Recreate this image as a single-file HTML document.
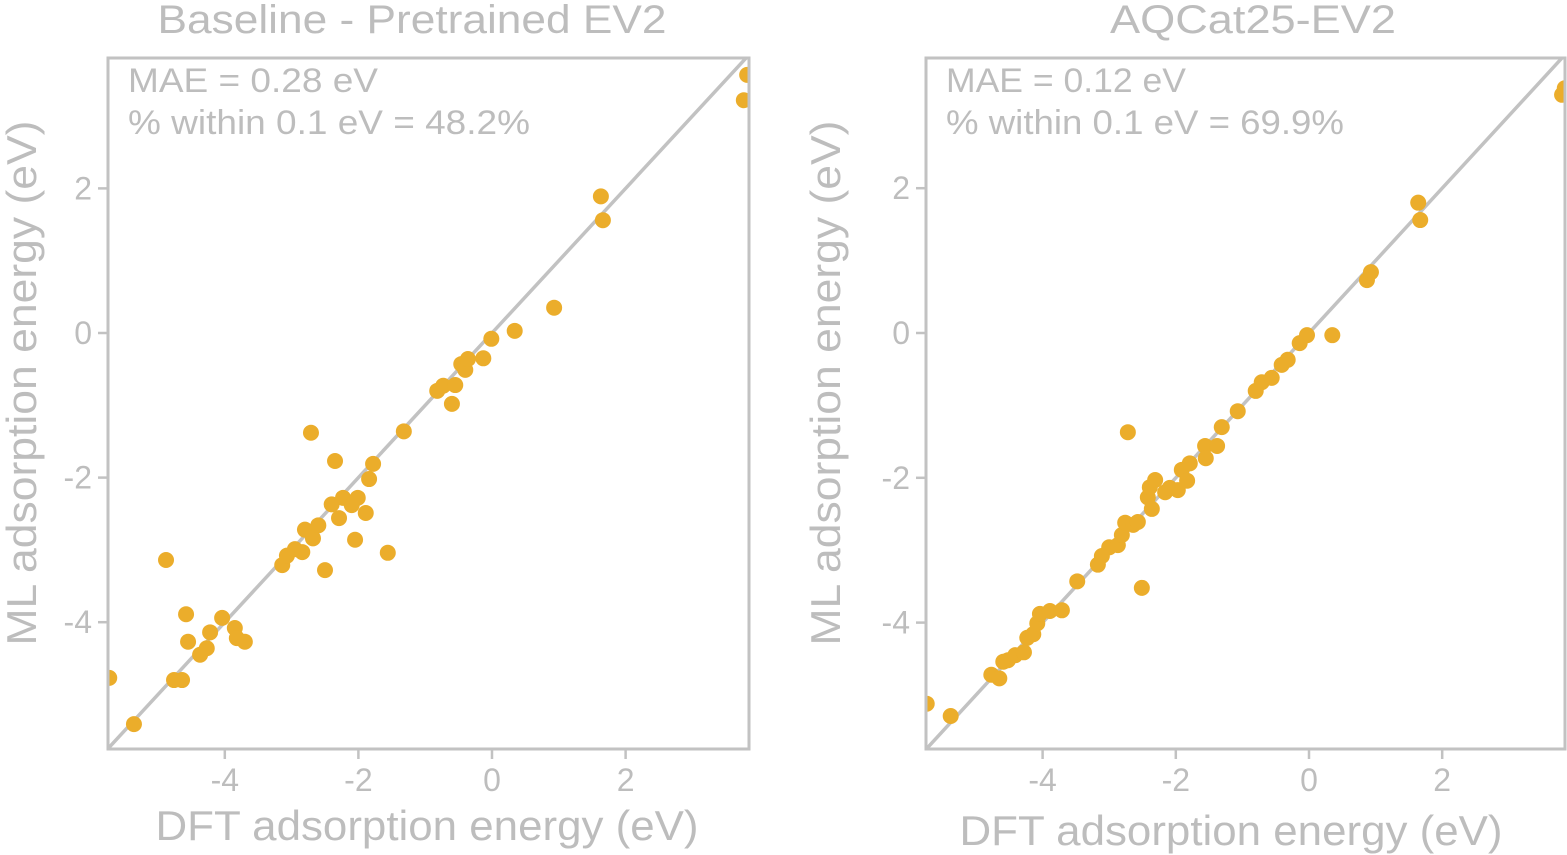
<!DOCTYPE html>
<html><head><meta charset="utf-8"><style>
html,body{margin:0;padding:0;background:#fff;}
svg{display:block;font-family:"Liberation Sans",sans-serif;}
</style></head><body>
<svg id="chart" width="1567" height="855" viewBox="0 0 1567 855"></svg>
<script>
const ticks = [-4, -2, 0, 2];
const leftDFT = [-5.73,-5.36,-4.88,-4.76,-4.64,-4.58,-4.55,-4.37,-4.27,-4.22,-4.04,-3.85,-3.82,-3.70,-3.14,-3.07,-2.95,-2.84,-2.80,-2.68,-2.71,-2.60,-2.50,-2.40,-2.35,-2.29,-2.23,-2.10,-2.05,-2.01,-1.89,-1.84,-1.78,-1.56,-1.32,-0.82,-0.73,-0.60,-0.55,-0.46,-0.40,-0.36,-0.13,-0.01,0.34,0.93,1.63,1.66,3.77,3.82];
const leftML = [-4.77,-5.41,-3.14,-4.80,-4.80,-3.89,-4.27,-4.45,-4.36,-4.14,-3.94,-4.08,-4.22,-4.27,-3.21,-3.08,-2.99,-3.03,-2.72,-2.84,-1.38,-2.66,-3.28,-2.37,-1.77,-2.56,-2.28,-2.38,-2.86,-2.28,-2.49,-2.02,-1.81,-3.04,-1.36,-0.80,-0.73,-0.98,-0.72,-0.43,-0.51,-0.36,-0.35,-0.08,0.03,0.35,1.89,1.56,3.22,3.57];
const rightDFT = [-5.74,-5.38,-4.77,-4.65,-4.59,-4.52,-4.41,-4.28,-4.23,-4.14,-4.08,-4.04,-3.89,-3.71,-3.48,-3.17,-3.11,-3.00,-2.87,-2.81,-2.76,-2.72,-2.64,-2.57,-2.51,-2.42,-2.39,-2.36,-2.31,-2.16,-2.09,-1.97,-1.91,-1.83,-1.79,-1.56,-1.55,-1.38,-1.31,-1.07,-0.80,-0.71,-0.56,-0.41,-0.32,-0.14,-0.03,0.35,0.87,0.93,1.64,1.67,3.80,3.84];
const rightML = [-5.12,-5.29,-4.72,-4.77,-4.54,-4.52,-4.45,-4.41,-4.21,-4.16,-4.01,-3.88,-3.84,-3.83,-3.43,-3.20,-3.08,-2.96,-2.93,-2.79,-2.62,-1.37,-2.65,-2.61,-3.52,-2.27,-2.13,-2.43,-2.03,-2.20,-2.14,-2.17,-1.89,-2.04,-1.80,-1.56,-1.73,-1.56,-1.30,-1.08,-0.80,-0.68,-0.62,-0.44,-0.37,-0.14,-0.03,-0.03,0.73,0.84,1.80,1.56,3.29,3.38];

const NS = "http://www.w3.org/2000/svg";
const svg = document.getElementById('chart');
const GREY = "#c2c2c2", TXT = "#bdbdbd", DOT = "#EBAD2B";
function mk(tag, attrs, parent){
  const e = document.createElementNS(NS, tag);
  for (const k in attrs) e.setAttribute(k, attrs[k]);
  (parent||svg).appendChild(e); return e;
}
const panels = [
  {id:'baseline', x0:108, x1:749, y0:58, y1:749, zeroX:492, unitX:66.8, zeroY:333, unitY:72.3,
   title:'Baseline - Pretrained EV2', titleX:412, titleW:509, mae:'MAE = 0.28 eV', maeW:250, pct:'% within 0.1 eV = 48.2%', pctW:402,
   xs:leftDFT, ys:leftML, ylabX:36, xlabX:427, xlabY:840},
  {id:'aqcat', x0:926, x1:1565, y0:58, y1:749, zeroX:1309, unitX:66.6, zeroY:333, unitY:72.4,
   title:'AQCat25-EV2', titleX:1253, titleW:286, mae:'MAE = 0.12 eV', maeW:240, pct:'% within 0.1 eV = 69.9%', pctW:398,
   xs:rightDFT, ys:rightML, ylabX:840, xlabX:1231, xlabY:845}
];
panels.forEach((p,i)=>{
  const g = mk('g', {});
  
  
  const sx = v => p.zeroX + v*p.unitX;
  const sy = v => p.zeroY - v*p.unitY;
  const cid = 'clip'+i;
  const cp = mk('clipPath', {id:cid}, g);
  mk('rect', {x:p.x0, y:p.y0, width:p.x1-p.x0, height:p.y1-p.y0}, cp);
  const plot = mk('g', {'clip-path':'url(#'+cid+')'}, g);
  const lo = (p.x0-p.zeroX)/p.unitX, hi = 5;
  const diag = mk('line', {x1:sx(lo), y1:sy(lo), x2:sx(hi), y2:sy(hi), stroke:GREY, 'stroke-width':3.5}, plot);
  
  
  p.xs.forEach((xv,j)=>{
    const c = mk('circle', {cx:sx(xv), cy:sy(p.ys[j]), r:8, fill:DOT}, plot);
    
    
  });
  const fr = mk('rect', {x:p.x0, y:p.y0, width:p.x1-p.x0, height:p.y1-p.y0, fill:'none', stroke:GREY, 'stroke-width':3}, g);
  
  
  ticks.forEach(t=>{
    mk('line', {x1:sx(t), x2:sx(t), y1:p.y1, y2:p.y1+10, stroke:GREY, 'stroke-width':2.5}, g);
    const tx = mk('text', {x:sx(t), y:p.y1+42, 'text-anchor':'middle', 'font-size':32, fill:TXT}, g);
    tx.textContent = t<0 ? '-'+(-t) : String(t);
    
    
    mk('line', {x1:p.x0-10, x2:p.x0, y1:sy(t), y2:sy(t), stroke:GREY, 'stroke-width':2.5}, g);
    const ty = mk('text', {x:p.x0-16, y:sy(t)+11, 'text-anchor':'end', 'font-size':32, fill:TXT}, g);
    ty.textContent = t<0 ? '-'+(-t) : String(t);
    
    
  });
  const ti = mk('text', {x:p.titleX, y:33, 'text-anchor':'middle', 'font-size':40, fill:TXT, textLength:p.titleW, lengthAdjust:'spacingAndGlyphs'}, g);
  ti.textContent = p.title;
  
  
  const m1 = mk('text', {x:p.x0+20, y:p.y0+34, 'font-size':34, fill:TXT, textLength:p.maeW, lengthAdjust:'spacingAndGlyphs'}, g);
  m1.textContent = p.mae;
  
  
  const m2 = mk('text', {x:p.x0+20, y:p.y0+76, 'font-size':34, fill:TXT, textLength:p.pctW, lengthAdjust:'spacingAndGlyphs'}, g);
  m2.textContent = p.pct;
  
  
  const xl = mk('text', {x:p.xlabX, y:p.xlabY, 'text-anchor':'middle', 'font-size':42, fill:TXT, textLength:543, lengthAdjust:'spacingAndGlyphs'}, g);
  xl.textContent = 'DFT adsorption energy (eV)';
  
  
  const yc = 383;
  const yl = mk('text', {x:p.ylabX, y:yc, 'text-anchor':'middle', 'font-size':42, fill:TXT, textLength:525, lengthAdjust:'spacingAndGlyphs', transform:'rotate(-90 '+p.ylabX+' '+yc+')'}, g);
  yl.textContent = 'ML adsorption energy (eV)';
  
  
});
</script>
</body></html>
